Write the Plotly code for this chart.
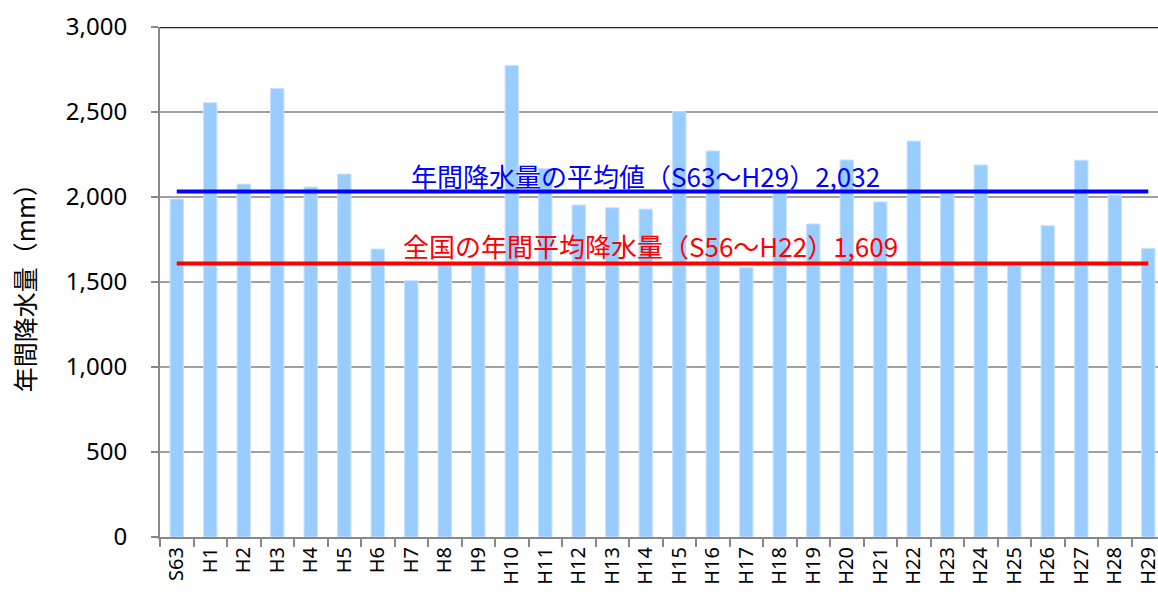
import plotly.graph_objects as go

categories = ["S63", "H1", "H2", "H3", "H4", "H5", "H6", "H7", "H8", "H9",
              "H10", "H11", "H12", "H13", "H14", "H15", "H16", "H17", "H18", "H19",
              "H20", "H21", "H22", "H23", "H24", "H25", "H26", "H27", "H28", "H29"]
rainfall = [1988, 2555, 2076, 2639, 2059, 2135, 1694, 1508, 1610, 1600,
            2774, 2167, 1953, 1937, 1929, 2502, 2271, 1584, 2030, 1841,
            2218, 1971, 2329, 2020, 2188, 1600, 1831, 2216, 2012, 1698]
local_avg = 2032
national_avg = 1609
local_label = "年間降水量の平均値（S63～H29）2,032"
national_label = "全国の年間平均降水量（S56～H22）1,609"
y_title = "年間降水量（mm）"
y_ticks = [0, 500, 1000, 1500, 2000, 2500, 3000]
y_ticktext = ["0", "500", "1,000", "1,500", "2,000", "2,500", "3,000"]

FONT = "Noto Sans, Noto Sans CJK JP, sans-serif"
CJK = "Noto Sans CJK JP, sans-serif"

fig = go.Figure()
fig.add_trace(go.Bar(
    x=categories, y=rainfall, width=0.4,
    marker=dict(color="#99CCFF", line=dict(color="#C8E2FF", width=1)),
    showlegend=False,
))
fig.add_trace(go.Scatter(
    x=[categories[0], categories[-1]], y=[local_avg, local_avg],
    mode="lines", line=dict(color="#0000FF", width=4), showlegend=False,
))
fig.add_trace(go.Scatter(
    x=[categories[0], categories[-1]], y=[national_avg, national_avg],
    mode="lines", line=dict(color="#FF0000", width=4), showlegend=False,
))

fig.add_annotation(x=13.98, y=local_avg, xref="x", yref="y", text=local_label,
                   showarrow=False, xanchor="center", yanchor="bottom", yshift=-4,
                   font=dict(family=CJK, size=26, color="#0000FF"))
fig.add_annotation(x=14.13, y=national_avg, xref="x", yref="y", text=national_label,
                   showarrow=False, xanchor="center", yanchor="bottom", yshift=-3,
                   font=dict(family=CJK, size=26, color="#FF0000"))
fig.add_annotation(x=-0.136, y=0.5, xref="paper", yref="paper", text=y_title,
                   showarrow=False, textangle=-90, xanchor="center", yanchor="middle",
                   font=dict(family=CJK, size=25, color="#000000"))

fig.add_shape(type="line", xref="paper", yref="y", x0=0, x1=1, y0=3000, y1=3000,
              line=dict(color="#262626", width=2.5), layer="above")

fig.update_layout(
    width=1158, height=592,
    margin=dict(l=160, r=0, t=27, b=55, pad=0, autoexpand=False),
    paper_bgcolor="white", plot_bgcolor="white",
    font=dict(family=FONT, color="#000000"),
    bargap=0.6,
)
fig.update_xaxes(
    type="category", range=[-0.5, 29.29], automargin=False,
    tickangle=-90, tickfont=dict(family=FONT, size=20, color="#000000"),
    ticks="outside", tickson="boundaries", ticklen=8, tickcolor="#888888", tickwidth=1.5,
    showline=True, linecolor="#888888", linewidth=2,
    showgrid=False,
)
fig.update_yaxes(
    range=[0, 3000], tickvals=y_ticks, ticktext=y_ticktext, automargin=False,
    tickfont=dict(family=FONT, size=24, color="#000000"),
    ticks="outside", ticklen=7, tickcolor="#888888", tickwidth=1.5,
    showline=True, linecolor="#888888", linewidth=2,
    showgrid=True, gridcolor="#A0A0A0", gridwidth=1.5,
    zeroline=False, ticklabelstandoff=19,
)

fig.write_html(
    "out.html",
    config={"displayModeBar": False},
    post_script="document.body.style.margin='0';document.body.style.overflow='hidden';",
)
